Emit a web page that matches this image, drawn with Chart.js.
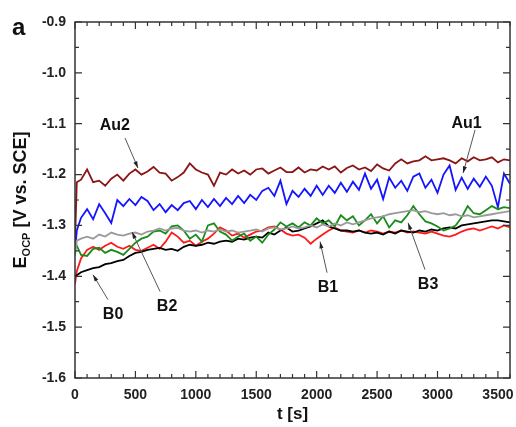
<!DOCTYPE html>
<html>
<head>
<meta charset="utf-8">
<script src="https://cdn.jsdelivr.net/npm/chart.js@4.4.1/dist/chart.umd.min.js"></script>
<style>
  html, body { margin: 0; padding: 0; background: #fff; }
  #wrap { width: 516px; height: 427px; position: relative; }
</style>
</head>
<body>
<div id="wrap"><canvas id="ocpChart"></canvas></div>
<script>
// time axis (s), shared by every curve
const times = [0, 15, 50, 100, 150, 200, 250, 300, 350, 400, 450, 500, 550, 600, 650, 700, 750, 800, 850, 900,
  950, 1000, 1050, 1100, 1150, 1200, 1250, 1300, 1350, 1400, 1450, 1500, 1550, 1600, 1650, 1700, 1750, 1800,
  1850, 1900, 1950, 2000, 2050, 2100, 2150, 2200, 2250, 2300, 2350, 2400, 2450, 2500, 2550, 2600, 2650, 2700,
  2750, 2800, 2850, 2900, 2950, 3000, 3050, 3100, 3150, 3200, 3250, 3300, 3350, 3400, 3450, 3500, 3550, 3600];

// E_OCP (V vs. SCE)
const au2 = [-1.33, -1.215, -1.21, -1.19, -1.215, -1.212, -1.222, -1.208, -1.2, -1.212, -1.198, -1.19, -1.2, -1.194,
  -1.185, -1.196, -1.198, -1.212, -1.205, -1.196, -1.178, -1.19, -1.196, -1.2, -1.222, -1.196, -1.2, -1.19, -1.198,
  -1.192, -1.2, -1.19, -1.188, -1.198, -1.192, -1.186, -1.195, -1.195, -1.186, -1.196, -1.19, -1.192, -1.184, -1.19,
  -1.184, -1.196, -1.187, -1.182, -1.19, -1.186, -1.193, -1.18, -1.188, -1.192, -1.178, -1.17, -1.178, -1.174, -1.172,
  -1.164, -1.172, -1.17, -1.168, -1.172, -1.178, -1.168, -1.174, -1.166, -1.172, -1.17, -1.166, -1.176, -1.17, -1.172];
const au1 = [-1.35, -1.31, -1.285, -1.268, -1.288, -1.258, -1.276, -1.295, -1.25, -1.262,
  -1.248, -1.26, -1.244, -1.252, -1.27, -1.258, -1.274, -1.26, -1.27, -1.256,
  -1.252, -1.268, -1.25, -1.264, -1.248, -1.262, -1.246, -1.258, -1.242, -1.256,
  -1.24, -1.25, -1.232, -1.226, -1.242, -1.212, -1.258, -1.232, -1.244, -1.228,
  -1.242, -1.222, -1.24, -1.222, -1.236, -1.216, -1.234, -1.214, -1.23, -1.198,
  -1.228, -1.21, -1.248, -1.206, -1.226, -1.212, -1.232, -1.204, -1.198, -1.226,
  -1.21, -1.236, -1.2, -1.182, -1.23, -1.206, -1.228, -1.208, -1.224, -1.204,
  -1.222, -1.264, -1.198, -1.218];
const b2 = [-1.36, -1.33, -1.326, -1.322, -1.326, -1.318, -1.322, -1.314, -1.318, -1.32, -1.316, -1.314, -1.318, -1.312,
  -1.31, -1.306, -1.31, -1.306, -1.305, -1.31, -1.312, -1.31, -1.314, -1.31, -1.312, -1.308, -1.312, -1.31, -1.314,
  -1.312, -1.31, -1.308, -1.312, -1.306, -1.304, -1.308, -1.306, -1.302, -1.306, -1.304, -1.3, -1.304, -1.298, -1.302,
  -1.296, -1.3, -1.294, -1.298, -1.294, -1.29, -1.286, -1.284, -1.282, -1.278, -1.276, -1.274, -1.272, -1.27, -1.274,
  -1.272, -1.276, -1.278, -1.276, -1.28, -1.278, -1.282, -1.28, -1.284, -1.282, -1.28, -1.278, -1.276, -1.274, -1.272];
const b3 = [-1.33, -1.34, -1.358, -1.36, -1.346, -1.344, -1.354, -1.348, -1.352, -1.358, -1.346, -1.334, -1.326, -1.322,
  -1.312, -1.31, -1.316, -1.302, -1.3, -1.31, -1.326, -1.318, -1.332, -1.3, -1.296, -1.312, -1.318, -1.33, -1.322,
  -1.316, -1.33, -1.322, -1.334, -1.318, -1.308, -1.294, -1.302, -1.296, -1.304, -1.294, -1.3, -1.286, -1.296, -1.29,
  -1.302, -1.28, -1.29, -1.282, -1.3, -1.29, -1.278, -1.296, -1.282, -1.304, -1.29, -1.294, -1.28, -1.262, -1.278,
  -1.292, -1.296, -1.302, -1.31, -1.306, -1.3, -1.284, -1.262, -1.276, -1.278, -1.27, -1.262, -1.268, -1.264, -1.266];
const b1 = [-1.415, -1.39, -1.365, -1.348, -1.342, -1.348, -1.34, -1.334, -1.342, -1.346, -1.34, -1.348, -1.35, -1.344,
  -1.338, -1.346, -1.332, -1.314, -1.322, -1.334, -1.33, -1.34, -1.332, -1.326, -1.316, -1.304, -1.31, -1.32, -1.316,
  -1.324, -1.318, -1.312, -1.31, -1.304, -1.302, -1.308, -1.316, -1.32, -1.318, -1.324, -1.336, -1.326, -1.318, -1.31,
  -1.304, -1.31, -1.312, -1.314, -1.31, -1.314, -1.31, -1.312, -1.316, -1.312, -1.314, -1.31, -1.314, -1.312, -1.314,
  -1.316, -1.312, -1.316, -1.32, -1.322, -1.318, -1.312, -1.308, -1.306, -1.31, -1.306, -1.302, -1.306, -1.3, -1.304];
const b0 = [-1.40, -1.398, -1.392, -1.388, -1.384, -1.382, -1.376, -1.374, -1.37, -1.368, -1.36, -1.354, -1.352, -1.348,
  -1.346, -1.344, -1.348, -1.346, -1.35, -1.342, -1.338, -1.34, -1.338, -1.334, -1.336, -1.332, -1.33, -1.332, -1.326,
  -1.328, -1.324, -1.322, -1.324, -1.314, -1.318, -1.31, -1.304, -1.312, -1.31, -1.306, -1.302, -1.296, -1.29, -1.302,
  -1.306, -1.31, -1.31, -1.312, -1.31, -1.314, -1.316, -1.314, -1.318, -1.312, -1.316, -1.31, -1.312, -1.314, -1.31,
  -1.312, -1.308, -1.31, -1.306, -1.304, -1.306, -1.3, -1.298, -1.296, -1.294, -1.292, -1.29, -1.29, -1.292, -1.294];

const xTicks = [0, 500, 1000, 1500, 2000, 2500, 3000, 3500];
const yTicks = [-1.6, -1.5, -1.4, -1.3, -1.2, -1.1, -1.0, -0.9];

// curve labels with arrows: text spot, arrow tail, arrow head (data units)
const notes = [
  { text: 'Au2', t: 330, v: -1.104, from: [414, -1.128], to: [521, -1.187] },
  { text: 'Au1', t: 3240, v: -1.100, from: [3311, -1.112], to: [3212, -1.197] },
  { text: 'B0', t: 315, v: -1.476, from: [273, -1.446], to: [149, -1.397] },
  { text: 'B2', t: 762, v: -1.460, from: [704, -1.430], to: [472, -1.313] },
  { text: 'B1', t: 2094, v: -1.423, from: [2086, -1.393], to: [2028, -1.332] },
  { text: 'B3', t: 2922, v: -1.417, from: [2897, -1.387], to: [2757, -1.295] }
];

const FONT = '"Liberation Sans", Arial, sans-serif';

function series(label, values, color) {
  return {
    label: label,
    data: times.map((t, i) => ({ x: t, y: values[i] })),
    borderColor: color,
    borderWidth: 1.8,
    pointRadius: 0,
    tension: 0,
    fill: false
  };
}

// frame with inward ticks on all four sides, panel letter, y title, curve labels
const decor = {
  id: 'decor',
  afterDraw(chart) {
    const ctx = chart.ctx;
    const a = chart.chartArea;
    const xs = chart.scales.x, ys = chart.scales.y;
    ctx.save();
    ctx.strokeStyle = '#333';
    ctx.lineWidth = 1.5;
    ctx.strokeRect(a.left, a.top, a.right - a.left, a.bottom - a.top);

    ctx.lineWidth = 1.2;
    ctx.beginPath();
    for (let t = 0; t <= 3600; t += 100) {
      const px = xs.getPixelForValue(t);
      const len = t % 500 === 0 ? 7 : 4;
      ctx.moveTo(px, a.bottom); ctx.lineTo(px, a.bottom - len);
      ctx.moveTo(px, a.top); ctx.lineTo(px, a.top + len);
    }
    for (let k = 0; k <= 14; k++) {
      const py = ys.getPixelForValue(-1.6 + k * 0.05);
      const len = k % 2 === 0 ? 7 : 4;
      ctx.moveTo(a.left, py); ctx.lineTo(a.left + len, py);
      ctx.moveTo(a.right, py); ctx.lineTo(a.right - len, py);
    }
    ctx.stroke();

    // panel letter
    ctx.fillStyle = '#111';
    ctx.font = 'bold 24px ' + FONT;
    ctx.textAlign = 'left';
    ctx.textBaseline = 'alphabetic';
    ctx.fillText('a', 12, 35);

    // y title with subscript
    const cy = (a.top + a.bottom) / 2;
    ctx.translate(26, cy);
    ctx.rotate(-Math.PI / 2);
    const big = 'bold 18px ' + FONT, small = 'bold 11px ' + FONT;
    ctx.font = big; const wE = ctx.measureText('E').width;
    const rest = ' [V vs. SCE]'; const wR = ctx.measureText(rest).width;
    ctx.font = small; const wS = ctx.measureText('OCP').width;
    let x0 = -(wE + wS + wR) / 2;
    ctx.font = big; ctx.fillText('E', x0, 0);
    ctx.font = small; ctx.fillText('OCP', x0 + wE, 4);
    ctx.font = big; ctx.fillText(rest, x0 + wE + wS, 0);
    ctx.setTransform(1, 0, 0, 1, 0, 0);

    // curve labels
    notes.forEach(n => {
      const x1 = xs.getPixelForValue(n.from[0]), y1 = ys.getPixelForValue(n.from[1]);
      const x2 = xs.getPixelForValue(n.to[0]), y2 = ys.getPixelForValue(n.to[1]);
      ctx.strokeStyle = '#555';
      ctx.lineWidth = 1;
      ctx.beginPath(); ctx.moveTo(x1, y1); ctx.lineTo(x2, y2); ctx.stroke();
      const ang = Math.atan2(y2 - y1, x2 - x1);
      ctx.fillStyle = '#222';
      ctx.beginPath();
      ctx.moveTo(x2, y2);
      ctx.lineTo(x2 - 7 * Math.cos(ang - 0.3), y2 - 7 * Math.sin(ang - 0.3));
      ctx.lineTo(x2 - 7 * Math.cos(ang + 0.3), y2 - 7 * Math.sin(ang + 0.3));
      ctx.closePath(); ctx.fill();
      ctx.fillStyle = '#111';
      ctx.font = 'bold 16px ' + FONT;
      ctx.textAlign = 'center';
      ctx.textBaseline = 'middle';
      ctx.fillText(n.text, xs.getPixelForValue(n.t), ys.getPixelForValue(n.v));
    });
    ctx.restore();
  }
};

new Chart(document.getElementById('ocpChart'), {
  type: 'line',
  data: {
    datasets: [
      series('B2', b2, '#9a9a9a'),
      series('B3', b3, '#1a8c1a'),
      series('B0', b0, '#000000'),
      series('B1', b1, '#ff1a1a'),
      series('Au1', au1, '#1414ff'),
      series('Au2', au2, '#8b1414')
    ]
  },
  options: {
    responsive: true,
    maintainAspectRatio: false,
    animation: false,
    layout: { padding: { top: 22, right: 6, left: 0, bottom: 0 } },
    plugins: { legend: { display: false }, tooltip: { enabled: false } },
    scales: {
      x: {
        type: 'linear',
        min: 0,
        max: 3600,
        afterBuildTicks: s => { s.ticks = xTicks.map(v => ({ value: v })); },
        afterFit: s => { s.height = 49; s.paddingLeft = 0; s.paddingRight = 0; },
        ticks: { color: '#222', font: { family: FONT, size: 14, weight: 'bold' }, padding: 9, maxRotation: 0, autoSkip: false, callback: v => String(v) },
        grid: { display: false, drawTicks: false },
        border: { display: false },
        title: { display: true, text: 't [s]', color: '#111', font: { family: FONT, size: 17, weight: 'bold' }, padding: { top: 0, bottom: 2 } }
      },
      y: {
        min: -1.6,
        max: -0.9,
        afterBuildTicks: s => { s.ticks = yTicks.map(v => ({ value: v })); },
        afterFit: s => { s.width = 75; },
        ticks: { color: '#222', font: { family: FONT, size: 14, weight: 'bold' }, padding: 9, callback: v => v.toFixed(1) },
        grid: { display: false, drawTicks: false },
        border: { display: false }
      }
    }
  },
  plugins: [decor]
});
</script>
</body>
</html>
